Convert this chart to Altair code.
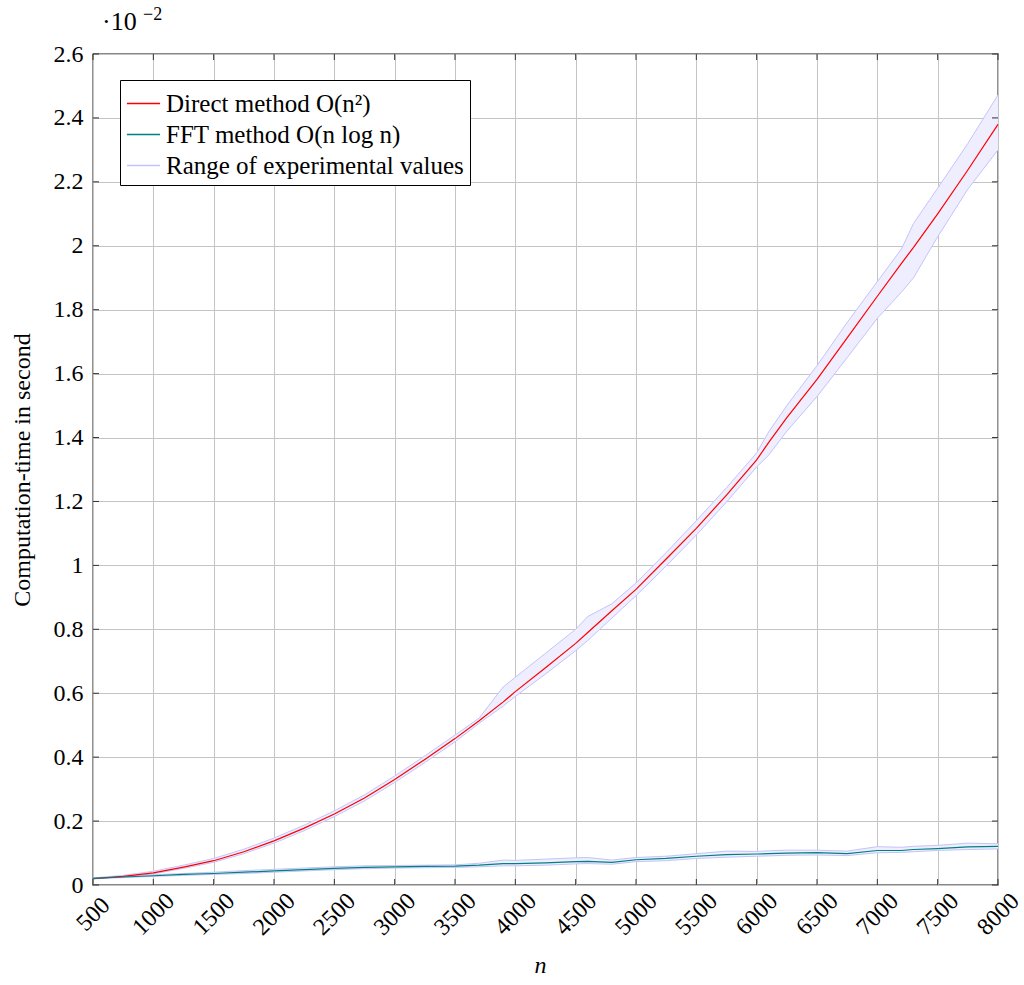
import altair as alt
import pandas as pd

# ---- data (computation time, units of 1e-2 s) ----
n_vals = [500, 750, 1000, 1250, 1500, 1750, 2000, 2250, 2500, 2750, 3000, 3250, 3500, 3700, 3900,
          4000, 4250, 4500, 4600, 4800, 5000, 5250, 5500, 5750, 6000, 6100, 6250, 6500, 6750, 7000,
          7200, 7300, 7500, 7750, 8000]

direct_mean = [0.020, 0.027, 0.038, 0.056, 0.076, 0.104, 0.138, 0.178, 0.222, 0.272, 0.330, 0.393, 0.458,
               0.514, 0.573, 0.605, 0.680, 0.756, 0.790, 0.858, 0.925, 1.020, 1.116, 1.220, 1.330, 1.385,
               1.462, 1.582, 1.712, 1.842, 1.945, 1.995, 2.100, 2.237, 2.380]
direct_hi = [0.022, 0.030, 0.043, 0.062, 0.083, 0.112, 0.147, 0.187, 0.232, 0.282, 0.341, 0.404, 0.469,
             0.522, 0.620, 0.650, 0.725, 0.800, 0.840, 0.880, 0.945, 1.040, 1.140, 1.243, 1.352, 1.418,
             1.500, 1.625, 1.760, 1.888, 1.990, 2.070, 2.180, 2.320, 2.472]
direct_lo = [0.019, 0.025, 0.035, 0.052, 0.071, 0.098, 0.131, 0.170, 0.214, 0.263, 0.321, 0.383, 0.448,
             0.506, 0.560, 0.590, 0.660, 0.733, 0.765, 0.835, 0.905, 0.998, 1.095, 1.198, 1.308, 1.345,
             1.420, 1.528, 1.650, 1.773, 1.855, 1.900, 2.028, 2.177, 2.300]

fft_mean = [0.021, 0.025, 0.029, 0.033, 0.036, 0.040, 0.044, 0.048, 0.052, 0.055, 0.057, 0.058, 0.059,
            0.062, 0.067, 0.067, 0.069, 0.073, 0.074, 0.071, 0.079, 0.083, 0.090, 0.095, 0.097, 0.098,
            0.100, 0.101, 0.098, 0.108, 0.108, 0.111, 0.114, 0.119, 0.121]
fft_hi = [0.022, 0.027, 0.032, 0.036, 0.040, 0.045, 0.049, 0.053, 0.057, 0.060, 0.061, 0.062, 0.063,
          0.068, 0.078, 0.077, 0.081, 0.085, 0.086, 0.078, 0.086, 0.090, 0.098, 0.106, 0.105, 0.107,
          0.109, 0.109, 0.106, 0.120, 0.118, 0.121, 0.124, 0.131, 0.129]
fft_lo = [0.020, 0.023, 0.027, 0.030, 0.033, 0.036, 0.040, 0.044, 0.048, 0.051, 0.053, 0.054, 0.055,
          0.057, 0.060, 0.060, 0.062, 0.066, 0.067, 0.065, 0.073, 0.076, 0.083, 0.087, 0.090, 0.091,
          0.093, 0.094, 0.092, 0.101, 0.102, 0.104, 0.108, 0.111, 0.113]

series_names = ["Direct method O(n²)", "FFT method O(n log n)", "Range of experimental values"]
series_colors = ["#ff0000", "#008080", "#c4c4fa"]

x_ticks = [500, 1000, 1500, 2000, 2500, 3000, 3500, 4000, 4500, 5000, 5500, 6000, 6500, 7000, 7500, 8000]
y_ticks = [0, 0.2, 0.4, 0.6, 0.8, 1, 1.2, 1.4, 1.6, 1.8, 2, 2.2, 2.4, 2.6]

# ---- tables ----
rows = []
for name, m, lo, hi in [(series_names[0], direct_mean, direct_lo, direct_hi),
                        (series_names[1], fft_mean, fft_lo, fft_hi)]:
    for i, n in enumerate(n_vals):
        rows.append({"method": name, "n": n, "y": m[i], "lo": lo[i], "hi": hi[i]})
df = pd.DataFrame(rows)

edge_rows = []
for name, lo, hi in [("d", direct_lo, direct_hi), ("f", fft_lo, fft_hi)]:
    for i, n in enumerate(n_vals):
        edge_rows.append({"edge": name + "lo", "n": n, "y": lo[i]})
        edge_rows.append({"edge": name + "hi", "n": n, "y": hi[i]})
edges = pd.DataFrame(edge_rows)

W, H = 905, 831
FONT = "Liberation Serif"

xscale = alt.Scale(domain=[500, 8000], nice=False, zero=False)
yscale = alt.Scale(domain=[0, 2.6], nice=False)
x_axis = alt.Axis(values=x_ticks, format="d", labelAngle=315, labelAlign="center", labelBaseline="middle",
                  labelPadding=29, labelFont=FONT, labelFontSize=24,
                  title="n", titleFont=FONT, titleFontSize=24, titleFontStyle="italic",
                  titleFontWeight="normal", titleY=80, titleBaseline="middle", titleX=447)
y_axis = alt.Axis(values=y_ticks, format="~g", labelPadding=10, labelFont=FONT, labelFontSize=24,
                  title="Computation-time in second", titleFont=FONT, titleFontSize=24,
                  titleFontWeight="normal",
                  titleAngle=270, titleX=-71, titleY=415.5, titleAlign="center", titleBaseline="middle")

band = alt.Chart(df).mark_area(color="#eeeeff", opacity=1, interpolate="linear").encode(
    x=alt.X("n:Q", scale=xscale, axis=x_axis),
    y=alt.Y("lo:Q", scale=yscale, axis=y_axis),
    y2="hi:Q",
    detail="method:N",
)

edge_lines = alt.Chart(edges).mark_line(color="#c4c4fa", strokeWidth=1).encode(
    x=alt.X("n:Q", scale=xscale, axis=x_axis),
    y=alt.Y("y:Q", scale=yscale, axis=y_axis),
    detail="edge:N",
)

main_lines = alt.Chart(df).mark_line(strokeWidth=1.2).encode(
    x=alt.X("n:Q", scale=xscale, axis=x_axis),
    y=alt.Y("y:Q", scale=yscale, axis=y_axis),
    color=alt.Color("method:N", scale=alt.Scale(domain=series_names, range=series_colors),
                    sort=series_names,
                    legend=alt.Legend(title=None, orient="none", legendX=27, legendY=26,
                                      symbolType="stroke", symbolSize=1100, symbolStrokeWidth=1.5,
                                      labelFont=FONT, labelFontSize=25, labelLimit=0,
                                      fillColor="white", strokeColor="black", padding=6,
                                      rowPadding=0, labelOffset=5)),
)

xt = pd.DataFrame({"t": x_ticks})
yt = pd.DataFrame({"t": y_ticks})
tick_color = "#333333"
xb = alt.Chart(xt).mark_rule(color=tick_color, strokeWidth=1).encode(
    x=alt.X("t:Q", scale=xscale, axis=x_axis), y=alt.value(H), y2=alt.value(H - 6))
xtp = alt.Chart(xt).mark_rule(color=tick_color, strokeWidth=1).encode(
    x=alt.X("t:Q", scale=xscale, axis=x_axis), y=alt.value(0), y2=alt.value(6))
yl = alt.Chart(yt).mark_rule(color=tick_color, strokeWidth=1).encode(
    y=alt.Y("t:Q", scale=yscale, axis=y_axis), x=alt.value(0), x2=alt.value(6))
yr = alt.Chart(yt).mark_rule(color=tick_color, strokeWidth=1).encode(
    y=alt.Y("t:Q", scale=yscale, axis=y_axis), x=alt.value(W - 6), x2=alt.value(W))

exp_base = alt.Chart(pd.DataFrame({"s": ["·10"]})).mark_text(
    font=FONT, fontSize=26, align="left", baseline="alphabetic", color="black").encode(
    text="s:N", x=alt.value(9), y=alt.value(-24))
exp_sup = alt.Chart(pd.DataFrame({"s": ["−2"]})).mark_text(
    font=FONT, fontSize=18, align="left", baseline="alphabetic", color="black").encode(
    text="s:N", x=alt.value(50), y=alt.value(-34))

chart = alt.layer(band, edge_lines, main_lines, xb, xtp, yl, yr, exp_base, exp_sup).properties(
    width=W, height=H,
    background="white",
    autosize=alt.AutoSizeParams(type="none"),
    padding={"left": 93, "top": 54, "right": 26, "bottom": 100},
).configure_view(stroke="#111111", strokeWidth=1.3).configure_axis(
    domain=False, ticks=False, grid=True, gridColor="#c4c4c4", gridWidth=1,
    labelFont=FONT, labelFontSize=24, labelColor="black",
    titleFont=FONT, titleFontSize=24, titleFontWeight="normal", titleColor="black",
)

chart.save("out.html", embed_options={"renderer": "svg", "actions": False})
